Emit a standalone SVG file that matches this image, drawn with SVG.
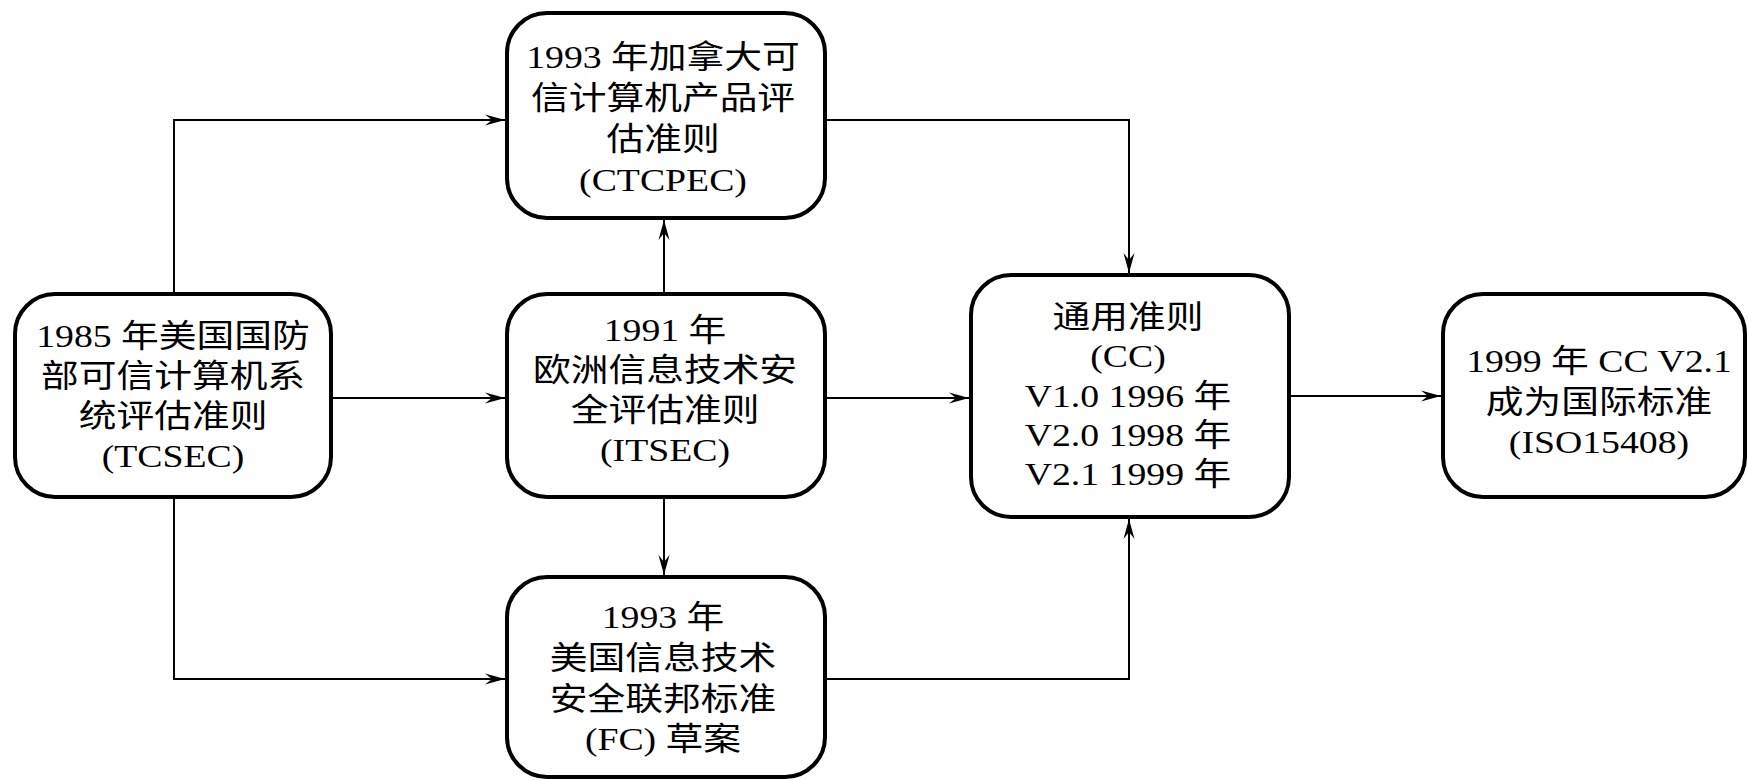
<svg xmlns="http://www.w3.org/2000/svg" width="1748" height="780" viewBox="0 0 1748 780">
<style>
.box{fill:#fff;stroke:#000;stroke-width:4}
.conn{fill:none;stroke:#000;stroke-width:2}
.t{font-family:"Liberation Serif","Noto Sans CJK SC",serif;font-size:32px;fill:#000;text-anchor:middle}
</style>
<defs>
<marker id="arr" markerUnits="userSpaceOnUse" viewBox="-22 -7 24 14" markerWidth="24" markerHeight="14" refX="0" refY="0" orient="auto">
<path d="M0,0 L-20,-5.5 L-13,0 L-20,5.5 Z" fill="#000"/>
</marker>
</defs>
<rect width="1748" height="780" fill="#fff"/>
<g id="connectors">
<path class="conn" d="M174 294 V120 H505" marker-end="url(#arr)"/>
<path class="conn" d="M331 398 H505" marker-end="url(#arr)"/>
<path class="conn" d="M174 497 V679 H505" marker-end="url(#arr)"/>
<path class="conn" d="M664 294 V220" marker-end="url(#arr)"/>
<path class="conn" d="M664 497 V575" marker-end="url(#arr)"/>
<path class="conn" d="M825 120 H1129 V273" marker-end="url(#arr)"/>
<path class="conn" d="M825 398 H969" marker-end="url(#arr)"/>
<path class="conn" d="M825 679 H1129 V519" marker-end="url(#arr)"/>
<path class="conn" d="M1289 396 H1441" marker-end="url(#arr)"/>
</g>
<g id="tcsec">
<rect class="box" x="15" y="294" width="316" height="203" rx="40"/>
<g transform="translate(173 0) scale(1.18 1)">
<text class="t" x="0" y="347">1985 年美国国防</text>
<text class="t" x="0" y="387">部可信计算机系</text>
<text class="t" x="0" y="427">统评估准则</text>
<text class="t" x="0" y="467">(TCSEC)</text>
</g>
</g>
<g id="ctcpec">
<rect class="box" x="507" y="13" width="318" height="205" rx="40"/>
<g transform="translate(663 0) scale(1.18 1)">
<text class="t" x="0" y="68">1993 年加拿大可</text>
<text class="t" x="0" y="109">信计算机产品评</text>
<text class="t" x="0" y="150">估准则</text>
<text class="t" x="0" y="191">(CTCPEC)</text>
</g>
</g>
<g id="itsec">
<rect class="box" x="507" y="294" width="318" height="203" rx="40"/>
<g transform="translate(665 0) scale(1.18 1)">
<text class="t" x="0" y="341">1991 年</text>
<text class="t" x="0" y="381">欧洲信息技术安</text>
<text class="t" x="0" y="421">全评估准则</text>
<text class="t" x="0" y="461">(ITSEC)</text>
</g>
</g>
<g id="fc">
<rect class="box" x="507" y="577" width="318" height="200" rx="40"/>
<g transform="translate(663 0) scale(1.18 1)">
<text class="t" x="0" y="628">1993 年</text>
<text class="t" x="0" y="669">美国信息技术</text>
<text class="t" x="0" y="710">安全联邦标准</text>
<text class="t" x="0" y="750">(FC) 草案</text>
</g>
</g>
<g id="cc">
<rect class="box" x="971" y="275" width="318" height="242" rx="40"/>
<g transform="translate(1128 0) scale(1.18 1)">
<text class="t" x="0" y="328">通用准则</text>
<text class="t" x="0" y="367">(CC)</text>
<text class="t" x="0" y="407">V1.0 1996 年</text>
<text class="t" x="0" y="446">V2.0 1998 年</text>
<text class="t" x="0" y="485">V2.1 1999 年</text>
</g>
</g>
<g id="iso">
<rect class="box" x="1443" y="294" width="302" height="203" rx="40"/>
<g transform="translate(1599 0) scale(1.18 1)">
<text class="t" x="0" y="372">1999 年 CC V2.1</text>
<text class="t" x="0" y="413">成为国际标准</text>
<text class="t" x="0" y="453">(ISO15408)</text>
</g>
</g>
</svg>
